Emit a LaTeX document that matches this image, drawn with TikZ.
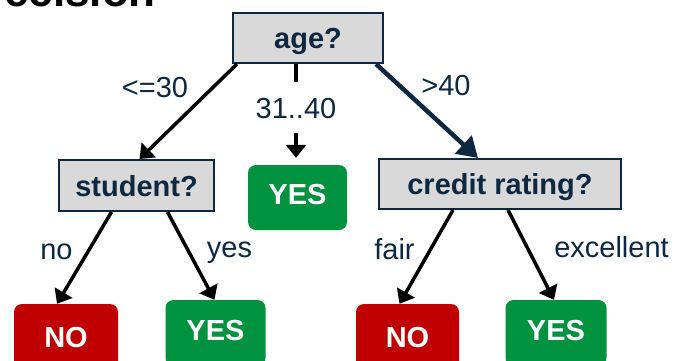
\documentclass[tikz,border=0pt]{standalone}
\usepackage{fontspec}
\setmainfont{Liberation Sans}
\usetikzlibrary{arrows.meta,calc}
\definecolor{navy}{HTML}{0E2841}
\definecolor{boxgrey}{HTML}{D9D9D9}
\definecolor{leafgreen}{HTML}{00923F}
\definecolor{leafred}{HTML}{C00000}
\tikzset{
  bigfont/.style={font=\fontsize{29}{34}\selectfont},
  qbox/.style={draw=navy, line width=2pt, fill=boxgrey, text=navy, bigfont, font=\fontsize{29}{34}\selectfont\bfseries, text height=21pt, text depth=0pt, inner sep=0pt},
  leaf/.style={rounded corners=8pt, text=white, font=\fontsize{29}{34}\selectfont\bfseries, inner sep=0pt, text height=21pt},
  yesbox/.style={leaf, fill=leafgreen, text depth=7pt},
  nobox/.style={leaf, fill=leafred, text depth=0pt},
  lbl/.style={text=navy, font=\fontsize{29}{34}\selectfont, inner sep=0pt, anchor=base},
  arr/.style={line width=3.5pt, -{Triangle[width=20pt,length=13pt]}},
  bigarr/.style={draw=navy, line width=4.5pt, -{Triangle[width=24pt,length=20pt]}}
}
\begin{document}
\begin{tikzpicture}[x=1pt,y=-1pt]
\clip (0,0) rectangle (680,360);
\fill[white] (0,0) rectangle (680,360);
% title (cropped)
\node[anchor=base east, inner sep=0pt, font=\fontsize{44}{50}\selectfont\bfseries] (title) at (156,6) {Decision};
% nodes
\node[qbox, minimum width=150pt, minimum height=50pt] (age) at (308,38) {age?};
\node[qbox, minimum width=155pt, minimum height=51pt] (student) at (136.5,185.5) {student?};
\node[qbox, minimum width=242pt, minimum height=50pt] (credit) at (500,184) {credit rating?};
\node[yesbox, minimum width=99pt, minimum height=65pt] (yes0) at (297.5,197.5) {YES};
\node[nobox, minimum width=104pt, minimum height=66pt] (no1) at (66,337) {NO};
\node[yesbox, minimum width=100pt, minimum height=66pt] (yes1) at (215.5,333) {YES};
\node[nobox, minimum width=103pt, minimum height=66pt] (no2) at (407.5,337) {NO};
\node[yesbox, minimum width=101pt, minimum height=66pt] (yes2) at (556,333) {YES};
% connectors
\draw[arr] ($(age.south west)+(5,0)$) -- ($(student.north)+(3,0)$);
\draw[arr] ($(age.south)+(-12,0)$) -- ($(yes0.north)+(-1.5,-7)$);
\draw[bigarr] ($(age.south east)+(-8,0)$) -- ($(credit.north)+(-22,0)$);
\draw[arr] ($(student.south)+(-25,0)$) -- ($(no1.north)+(-9,0)$);
\draw[arr] ($(student.south)+(31,0)$) -- ($(yes1.north)+(-1,0)$);
\draw[arr] ($(credit.south)+(-47,0)$) -- ($(no2.north)+(-8,0)$);
\draw[arr] ($(credit.south)+(8,0)$) -- ($(yes2.north)+(-2,0)$);
% labels
\node[lbl] (l1) at (155,97) {<=30};
\node[lbl, fill=white, inner ysep=15pt, text height=21pt, text depth=0pt] (l2) at (296,118) {31..40};
\node[lbl] (l3) at (446,95) {>40};
\node[lbl] (l4) at (56.5,259) {no};
\node[lbl] (l5) at (229.5,257) {yes};
\node[lbl] (l6) at (394.5,259) {fair};
\node[lbl] (l7) at (611.5,257) {excellent};
\end{tikzpicture}
\end{document}
